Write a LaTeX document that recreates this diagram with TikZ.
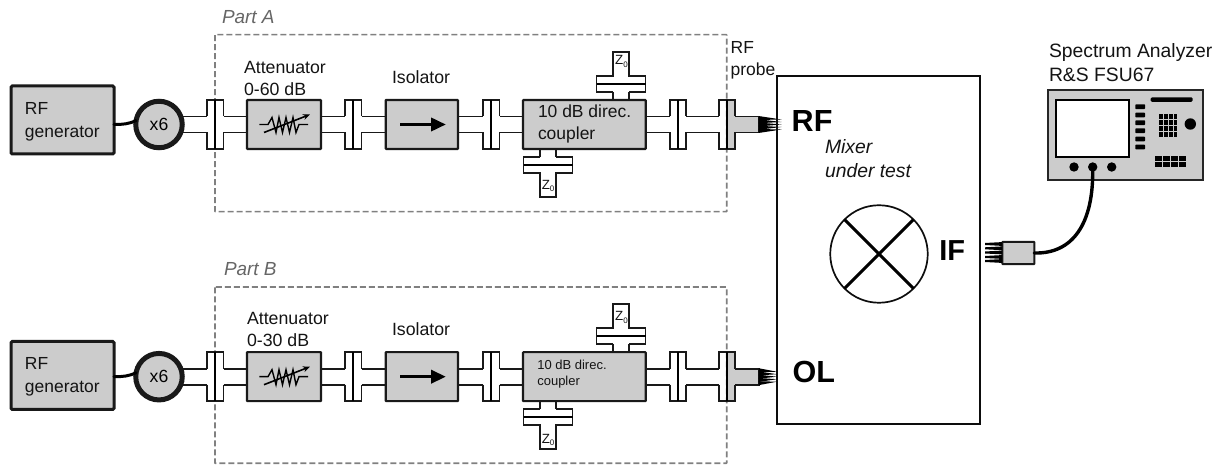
\documentclass[tikz,border=0pt]{standalone}
\usepackage{fontspec}
\setmainfont{Liberation Sans}
\usetikzlibrary{arrows.meta,backgrounds}
\def\px{0.75pt}
\definecolor{boxgray}{HTML}{CCCCCC}
\definecolor{dashgray}{HTML}{808080}
\definecolor{partgray}{HTML}{666666}
\tikzset{
  lab/.style={anchor=base west,inner sep=0pt,outer sep=0pt,align=left,text=black!92},
  gbox/.style={draw=black!90,fill=boxgray,line width=2.1*\px,rectangle,inner sep=0pt,outer sep=0pt,minimum height=49*\px,rounded corners=0.4pt},
  genbox/.style={draw=black!90,fill=boxgray,line width=3*\px,rectangle,inner sep=0pt,outer sep=0pt,minimum width=103*\px,minimum height=68*\px,rounded corners=1pt},
  multbox/.style={draw=black!90,fill=boxgray,line width=5*\px,circle,inner sep=0pt,outer sep=0pt,minimum size=46.5*\px},
  flangeanchor/.style={rectangle,inner sep=0pt,outer sep=0pt,minimum width=16.5*\px,minimum height=49*\px},
  wg/.style={draw=black!90,line width=1.9*\px},
  midl/.style={draw=black,line width=2.1*\px},
  partbox/.style={draw=dashgray,line width=1.6*\px,dash pattern=on 6*\px off 3*\px},
  cable/.style={draw=black,line width=3.4*\px,line cap=round},
  symb/.style={draw=black,line width=1.4*\px,line join=miter},
}
\newcommand{\flange}[3]{%
  \node[flangeanchor] (#1) at (#2,#3) {};
  \draw[wg,line join=miter] (#2-8.25,#3-8) -- (#2-8.25,#3-24.5) -- (#2+8.25,#3-24.5) -- (#2+8.25,#3-8);
  \draw[wg,line join=miter] (#2-8.25,#3+8) -- (#2-8.25,#3+24.5) -- (#2+8.25,#3+24.5) -- (#2+8.25,#3+8);
  \draw[midl] (#2,#3-24.5) -- (#2,#3+24.5);
}
\newcommand{\rails}[2]{%
  \begin{scope}[on background layer]
  \draw[wg] ([yshift=6pt]#1) -- ([yshift=6pt]#2);
  \draw[wg] ([yshift=-6pt]#1) -- ([yshift=-6pt]#2);
  \end{scope}
}
% vertical terminated stub: name, x centre, y flange centre, direction of the closed end
\newcommand{\zstub}[4]{%
  \draw[wg,line join=miter] (#2-8,#3-#4*8) -- (#2-24.5,#3-#4*8) -- (#2-24.5,#3+#4*8) -- (#2-8,#3+#4*8) -- (#2-8,#3+#4*32) -- (#2+8,#3+#4*32) -- (#2+8,#3+#4*8) -- (#2+24.5,#3+#4*8) -- (#2+24.5,#3-#4*8) -- (#2+8,#3-#4*8);
  \draw[midl] (#2-24.5,#3) -- (#2+24.5,#3);
  \node[rectangle,inner sep=0pt,outer sep=0pt,minimum width=49*\px,minimum height=16*\px] (#1) at (#2,#3) {};
}
\newcommand{\stubrails}[3]{%
  \begin{scope}[on background layer]
  \coordinate (sl) at ([xshift=-6pt]#1.#2);
  \coordinate (sr) at ([xshift=6pt]#1.#2);
  \draw[wg] (sl) -- (sl |- #3);
  \draw[wg] (sr) -- (sr |- #3);
  \end{scope}
}
\newcommand{\rfrow}[4]{%
  \node[genbox] (gen#1) at (62.5,#3) {};
  \node[multbox] (mul#1) at (159,#2) {\fontsize{13.2}{15}\selectfont x6};
  \draw[cable,line width=3*\px] (gen#1.east |- mul#1.center) .. controls (123,#2) and (129,#2-0.5) .. (mul#1.170);
  \node[gbox,minimum width=74*\px] (att#1) at (284,#2) {};
  \node[gbox,minimum width=72.3*\px] (iso#1) at (421.85,#2) {};
  \node[gbox,minimum width=122.7*\px] (cpl#1) at (584.35,#2) {};
  \flange{fa#1}{215.25}{#2}
  \flange{fb#1}{353.25}{#2}
  \flange{fc#1}{491.25}{#2}
  \flange{fd#1}{678}{#2}
  \node[rectangle,fill=boxgray,inner sep=0pt,outer sep=0pt,minimum width=32*\px,minimum height=16*\px] (prb#1) at (743,#2) {};
  \path[fill=boxgray] (727,#2-24.5) rectangle (735.25,#2+24.5);
  \flange{fe#1}{727}{#2}
  \draw[wg,line join=miter] (735.25,#2-8) -- (759,#2-8) -- (759,#2+8) -- (735.25,#2+8);
  \foreach \b/\t in {-6.5/-5,-3.25/-2.5,0/0,3.25/2.5,6.5/5}{
    \fill[black] (758.5,#2+\b-2) -- (#4,#2+\t) -- (758.5,#2+\b+2) -- cycle;
  }
  \rails{mul#1.center}{fa#1.west}
  \rails{fa#1.east}{att#1.west}
  \rails{att#1.east}{fb#1.west}
  \rails{fb#1.east}{iso#1.west}
  \rails{iso#1.east}{fc#1.west}
  \rails{fc#1.east}{cpl#1.west}
  \rails{cpl#1.east}{fd#1.west}
  \rails{fd#1.east}{fe#1.west}
  \draw[symb] (259.3,#2) -- (268,#2) -- (272,#2-7) -- (276,#2+8) -- (279,#2-7) -- (282.5,#2+8) -- (286,#2-7) -- (289.5,#2+8) -- (293,#2-7) -- (296,#2+8) -- (299,#2) -- (308,#2);
  \draw[symb,line width=1.6*\px,-{Stealth[length=7*\px,width=6*\px]}] (264,#2+8) -- (310,#2-10);
  \draw[draw=black,line width=3.6*\px,-{Stealth[length=15*\px,width=13*\px,inset=0pt]}] (400,#2) -- (446,#2);
  \stubrails{ztop#1}{south}{cpl#1.north}
  \stubrails{zbot#1}{north}{cpl#1.south}
}
\begin{document}
\begin{tikzpicture}[x=0.75pt,y=-0.75pt]
\useasboundingbox (0,0) rectangle (1229,466);
\zstub{ztopA}{621}{84}{-1}
\zstub{zbotA}{548}{165}{1}
\zstub{ztopB}{621}{336}{-1}
\zstub{zbotB}{548}{417}{1}
\rfrow{A}{124.5}{120}{781.5}
\rfrow{B}{376.7}{375.5}{777}
\begin{scope}[on background layer]
  \draw[partbox,rounded corners=0.3pt] (215,34.7) rectangle (726.7,211.7);
  \draw[partbox,rounded corners=0.3pt] (215,287) rectangle (726.7,463.3);
\end{scope}
\node[rectangle,draw=black!95,line width=1.8*\px,inner sep=0pt,outer sep=0pt,minimum width=203*\px,minimum height=348.5*\px] (mixer) at (878.7,250) {};
\node[circle,draw=black!95,line width=1.7*\px,inner sep=0pt,outer sep=0pt,minimum size=97.5*\px] (mixc) at (879,254) {};
\draw[draw=black,line width=3*\px] (mixc.135) -- (mixc.315);
\draw[draw=black,line width=3*\px] (mixc.45) -- (mixc.225);
\node[rectangle,draw=black!85,fill=boxgray,line width=1.9*\px,inner sep=0pt,outer sep=0pt,minimum width=154.7*\px,minimum height=89.7*\px] (sa) at (1125.35,135.15) {};
\node[rectangle,draw=black,fill=white,line width=2*\px,inner sep=0pt,outer sep=0pt,minimum width=73*\px,minimum height=57*\px] (screen) at (1092.5,128.5) {};
\node[circle,fill=black,inner sep=0pt,minimum size=9.4*\px] (k1) at (1074,167) {};
\node[circle,fill=black,inner sep=0pt,minimum size=9.4*\px] (k2) at (1092.7,167) {};
\node[circle,fill=black,inner sep=0pt,minimum size=9.4*\px] (k3) at (1111.7,167) {};
\node[circle,fill=black,inner sep=0pt,minimum size=11.4*\px] (k4) at (1190.3,124) {};
\foreach \yy in {106.7,115,122.7,130.7,139,147}{
  \fill[black,rounded corners=0.5pt] (1135.3,\yy-2.4) rectangle (1145,\yy+2.4);
}
\fill[black,rounded corners=1pt] (1150.7,97.3) rectangle (1192.7,101.8);
\foreach \i in {0,1,2,3}{\foreach \j in {0,1,2,3}{
  \fill[black] (1159.3+\i*4.8,114.3+\j*6) rectangle ++(3.7,4.7);
}}
\foreach \i in {0,1,2,3}{\foreach \j in {0,1}{
  \fill[black] (1154.7+\i*8,156.3+\j*6) rectangle ++(7,5);
}}
\node[rectangle,draw=black!90,fill=boxgray,line width=2.1*\px,inner sep=0pt,outer sep=0pt,minimum width=32*\px,minimum height=22.3*\px,rounded corners=0.5pt] (plug) at (1018.3,253) {};
\foreach \yy in {244,248.3,252.5,257,261}{
  \fill[black] (1002,\yy-1.9) -- (985,\yy-1) -- (985,\yy+1) -- (1002,\yy+1.9) -- cycle;
}
\draw[cable] (plug.east) .. controls (1072,254) and (1094,225) .. (k2.center);
\node[lab,text=partgray,font=\fontsize{14.2}{17}\selectfont\itshape] (lpa) at (222,23.7) {Part A};
\node[lab,text=partgray,font=\fontsize{14.2}{17}\selectfont\itshape] (lpb) at (224,275.7) {Part B};
\node[lab,font=\fontsize{13.1}{17.25}\selectfont] (lga) at (25,137.3) {RF\\generator};
\node[lab,font=\fontsize{13.1}{17.25}\selectfont] (lgb) at (25,392.7) {RF\\generator};
\node[lab,font=\fontsize{13.3}{17}\selectfont] (laa) at (244,96) {Attenuator\\0-60 dB};
\node[lab,font=\fontsize{13.3}{17}\selectfont] (lab) at (247,346.7) {Attenuator\\0-30 dB};
\node[lab,font=\fontsize{13.3}{17}\selectfont] (lia) at (392,84) {Isolator};
\node[lab,font=\fontsize{13.3}{17}\selectfont] (lib) at (392,336) {Isolator};
\node[lab,font=\fontsize{13.1}{16.5}\selectfont] (lca) at (538,139.3) {10 dB direc.\\coupler};
\node[lab,font=\fontsize{9.75}{12.5}\selectfont] (lcb) at (537.3,386) {10 dB direc.\\coupler};
\node[lab,font=\fontsize{10}{11}\selectfont] (lz1) at (615.2,65) {Z\raisebox{-1.8pt}{\fontsize{6}{7}\selectfont 0}};
\node[lab,font=\fontsize{10}{11}\selectfont] (lz2) at (541.8,189.3) {Z\raisebox{-1.8pt}{\fontsize{6}{7}\selectfont 0}};
\node[lab,font=\fontsize{10}{11}\selectfont] (lz3) at (615.2,320.7) {Z\raisebox{-1.8pt}{\fontsize{6}{7}\selectfont 0}};
\node[lab,font=\fontsize{10}{11}\selectfont] (lz4) at (541.8,443.3) {Z\raisebox{-1.8pt}{\fontsize{6}{7}\selectfont 0}};
\node[lab,font=\fontsize{13.1}{17}\selectfont] (lprobe) at (730.7,76) {RF\\probe};
\node[lab,text=black,font=\fontsize{22.9}{26}\selectfont\bfseries] (lrf) at (791.7,131.7) {RF};
\node[lab,text=black,font=\fontsize{22.9}{26}\selectfont\bfseries] (lol) at (792.7,382.7) {OL};
\node[lab,text=black,font=\fontsize{21.7}{26}\selectfont\bfseries] (lif) at (939.3,261) {IF};
\node[lab,font=\fontsize{14.5}{18.5}\selectfont\itshape] (lmix) at (825,178) {Mixer\\under test};
\node[lab,font=\fontsize{14.5}{18.3}\selectfont] (lsa) at (1049,81.7) {Spectrum Analyzer\\R\&S FSU67};
\end{tikzpicture}
\end{document}
